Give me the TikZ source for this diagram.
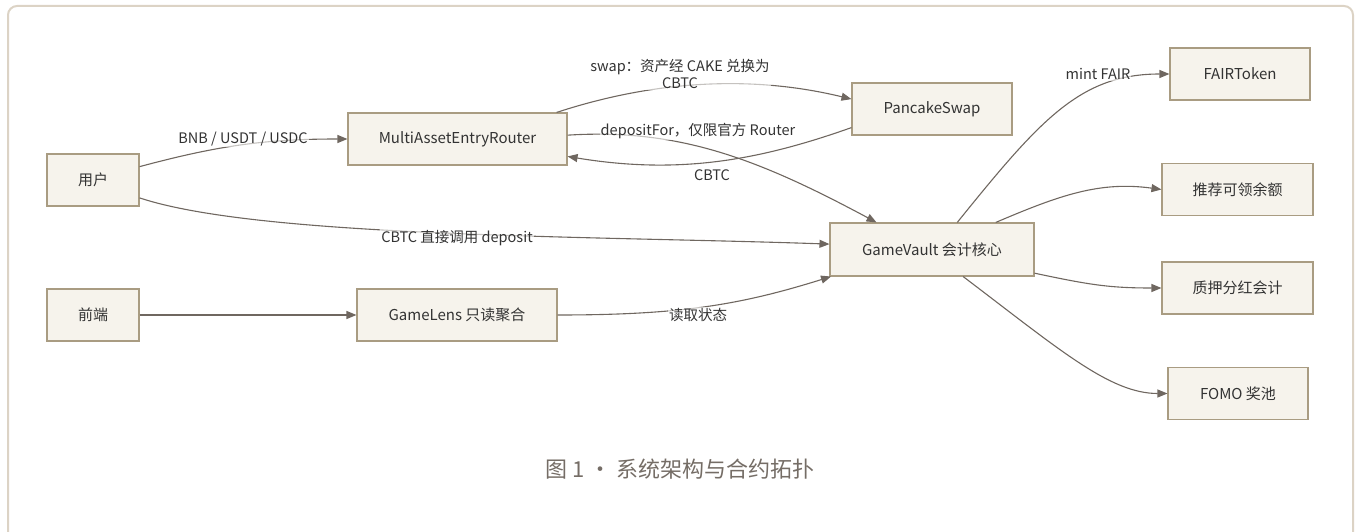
\documentclass[tikz,border=0pt]{standalone}
\usepackage{fontspec}
\setmainfont{Noto Sans CJK SC}
\usepackage{tikz}
\usetikzlibrary{arrows.meta}
\definecolor{boxfill}{HTML}{F6F3EC}
\definecolor{boxline}{HTML}{A99C82}
\definecolor{edgecol}{HTML}{6F6760}
\definecolor{txtcol}{HTML}{333333}
\definecolor{capcol}{HTML}{756D66}
\definecolor{framecol}{HTML}{DCD3C5}
\tikzstyle{box}=[rectangle,draw=boxline,fill=boxfill,line width=1.1pt,minimum height=52pt,inner sep=0pt,text=txtcol,font=\fontsize{15}{18}\selectfont]
\tikzstyle{edge}=[draw=edgecol,line width=1.1pt,-{Triangle[length=10pt,width=8pt]}]
\tikzstyle{lbl}=[fill=white,fill opacity=0.6,text opacity=1,inner sep=1pt,text=txtcol,font=\fontsize{14.5}{17}\selectfont,align=center]

\begin{document}
\begin{tikzpicture}[x=1pt,y=1pt]
\useasboundingbox (0,0) rectangle (1360,-532);
\draw[framecol,line width=2pt,rounded corners=9pt] (8,-580) rectangle (1353,-6);

% vertices
\node[box,minimum width=92pt] (user) at (93,-180) {用户};
\node[box,minimum width=92pt] (front) at (93,-315) {前端};
\node[box,minimum width=219pt] (router) at (457.5,-139) {MultiAssetEntryRouter};
\node[box,minimum width=200pt] (lens) at (457,-315) {GameLens 只读聚合};
\node[box,minimum width=160pt] (pancake) at (932,-109) {PancakeSwap};
\node[box,minimum width=204pt,minimum height=53pt] (vault) at (932,-249.5) {GameVault 会计核心};
\node[box,minimum width=140pt] (fair) at (1240,-74) {FAIRToken};
\node[box,minimum width=151pt] (refer) at (1237.5,-189.5) {推荐可领余额};
\node[box,minimum width=151pt] (stake) at (1237.5,-288) {质押分红会计};
\node[box,minimum width=140pt] (fomo) at (1238,-393.5) {FOMO 奖池};

% edges and paths
\draw[edge] (user.16) to[out=15,in=180] (router.west);
\draw[edge] (user.-21) .. controls (260,-238) and (600,-236) .. (vault.177);
\draw[edge] (router.15) .. controls (640,-85) and (740,-72) .. (pancake.173);
\draw[edge] (pancake.193) .. controls (760,-160) and (680,-175) .. (router.-9);
\draw[edge] (router.2) .. controls (680,-128) and (760,-160) .. (vault.154);
\draw[edge] (front.east) -- (lens.west);
\draw[edge] (lens.east) .. controls (680,-315) and (740,-305) .. (vault.195);
\draw[edge] (vault.47) .. controls (1040,-120) and (1080,-74) .. (fair.west);
\draw[edge] (vault.23) .. controls (1060,-195) and (1100,-181) .. (refer.west);
\draw[edge] (vault.-13) .. controls (1090,-285) and (1110,-288) .. (stake.west);
\draw[edge] (vault.-41) .. controls (1060,-350) and (1110,-393.5) .. (fomo.west);

% edge labels
\node[lbl] (l1) at (243,-139) {BNB / USDT / USDC};
\node[lbl] (l2) at (457,-238) {CBTC 直接调用 deposit};
\node[lbl] (l3) at (680,-74) {swap：资产经 CAKE 兑换为\\CBTC};
\node[lbl] (l4) at (698,-131) {depositFor，仅限官方 Router};
\node[lbl] (l5) at (712,-175) {CBTC};
\node[lbl] (l6) at (698,-315) {读取状态};
\node[lbl] (l7) at (1098,-74) {mint FAIR};

% caption
\node[text=capcol,font=\fontsize{22}{26}\selectfont] (cap) at (680,-469) {图 1 · 系统架构与合约拓扑};

\end{tikzpicture}
\end{document}
